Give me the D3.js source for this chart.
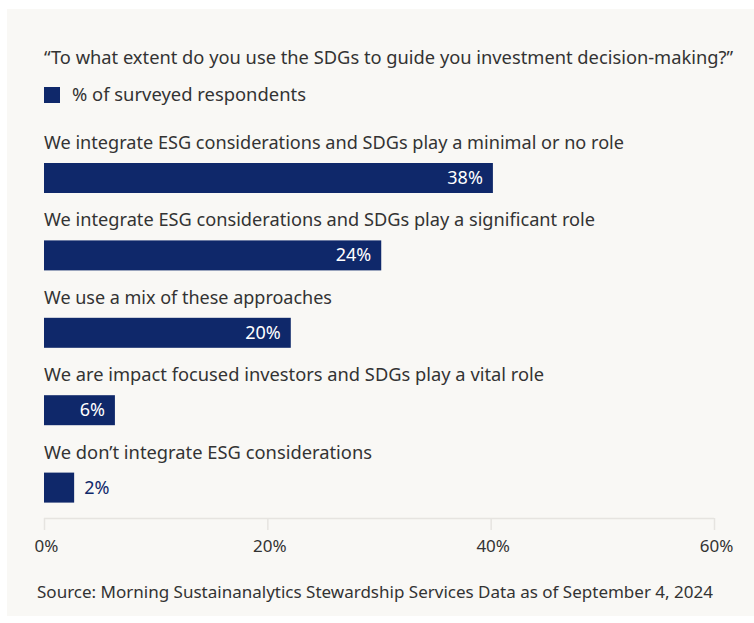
<!DOCTYPE html>
<html>
<head>
<meta charset="utf-8">
<script src="https://cdn.jsdelivr.net/npm/d3@7"></script>
<style>
  html, body { margin: 0; padding: 0; background: #ffffff; }
  svg { display: block; }
  text { font-family: "Noto Sans", "Open Sans", sans-serif; }
</style>
</head>
<body>
<svg id="chart" width="754" height="623"></svg>
<script>
// ---- data ----
const title = "\u201CTo what extent do you use the SDGs to guide you investment decision-making?\u201D";
const legendLabel = "% of surveyed respondents";
const categories = [
  "We integrate ESG considerations and SDGs play a minimal or no role",
  "We integrate ESG considerations and SDGs play a significant role",
  "We use a mix of these approaches",
  "We are impact focused investors and SDGs play a vital role",
  "We don\u2019t integrate ESG considerations"
];
// bar lengths as drawn against the axis
const values = [40.2, 30.2, 22.1, 6.35, 2.7];
// labels printed on the bars
const valueLabels = ["38%", "24%", "20%", "6%", "2%"];
const ticks = [0, 20, 40, 60];
const tickLabels = ["0%", "20%", "40%", "60%"];
const source = "Source: Morning Sustainanalytics Stewardship Services Data as of September 4, 2024";

// ---- drawing ----
const svg = d3.select("#chart");
const navy = "#0f286a";
const textColor = "#333333";

svg.append("rect").attr("x", 7).attr("y", 9).attr("width", 747).attr("height", 607).attr("fill", "#f9f8f5");

const x = d3.scaleLinear().domain([0, 60]).range([44, 714]);
const band = d3.scaleBand().domain(d3.range(categories.length)).range([124, 511]).paddingInner(0).paddingOuter(0);

svg.append("text").attr("x", 44).attr("y", 64)
  .attr("font-size", 17.5).attr("fill", textColor)
  .attr("textLength", 689).attr("lengthAdjust", "spacingAndGlyphs")
  .text(title);

svg.append("rect").attr("x", 44).attr("y", 87).attr("width", 16).attr("height", 16).attr("fill", navy);
svg.append("text").attr("x", 72).attr("y", 101)
  .attr("font-size", 17.5).attr("fill", textColor)
  .attr("textLength", 234).attr("lengthAdjust", "spacingAndGlyphs")
  .text(legendLabel);

// axis
const axis = d3.axisBottom(x).tickValues(ticks).tickFormat((d, i) => tickLabels[i]).tickSize(12).tickPadding(10);
const gAxis = svg.append("g").attr("transform", "translate(0,518)").call(axis);
gAxis.select(".domain").attr("stroke", "#e6e4e0").attr("stroke-width", 1.5).attr("d", `M${x(0)},0.5H${x(60)}`);
gAxis.selectAll(".tick line").attr("stroke", "#e6e4e0").attr("stroke-width", 1.5);
gAxis.selectAll(".tick text").attr("font-size", 17).attr("fill", textColor)
  .attr("font-family", "Noto Sans, sans-serif").attr("dx", 2);

// categories & bars
const labelWidths = [580, 551, 288, 500, 328];
const rows = svg.append("g").selectAll("g").data(categories).join("g")
  .attr("transform", (d, i) => `translate(0,${band(i)})`);

rows.append("text").attr("x", 44).attr("y", 25)
  .attr("font-size", 18).attr("fill", textColor)
  .attr("textLength", (d, i) => labelWidths[i]).attr("lengthAdjust", "spacingAndGlyphs")
  .text(d => d);

rows.append("rect")
  .attr("x", x(0)).attr("y", 39)
  .attr("width", (d, i) => x(values[i]) - x(0))
  .attr("height", 30)
  .attr("fill", navy);

rows.append("text")
  .attr("x", (d, i) => values[i] > 4 ? x(values[i]) - 10 : x(values[i]) + 10)
  .attr("y", 60)
  .attr("text-anchor", (d, i) => values[i] > 4 ? "end" : "start")
  .attr("font-size", 18)
  .attr("fill", (d, i) => values[i] > 4 ? "#ffffff" : navy)
  .text((d, i) => valueLabels[i]);

svg.append("text").attr("x", 37).attr("y", 598)
  .attr("font-size", 16.5).attr("fill", textColor)
  .attr("textLength", 676).attr("lengthAdjust", "spacingAndGlyphs")
  .text(source);
</script>
</body>
</html>
